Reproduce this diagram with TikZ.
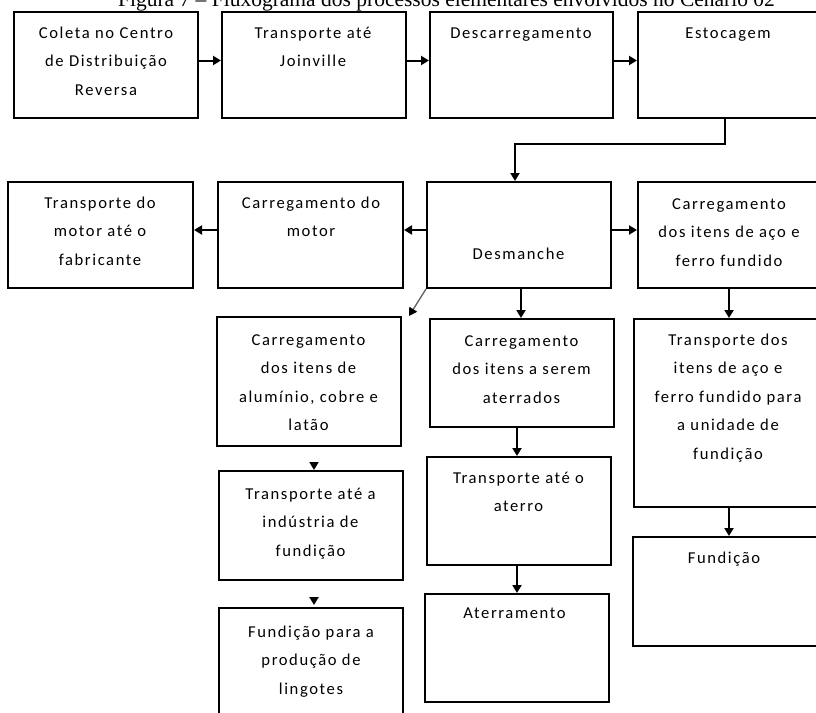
\documentclass[tikz,border=0pt]{standalone}
\usepackage{fontspec}
\setmainfont{Liberation Serif}
\newfontfamily\boxfont[LetterSpace=9.6]{Carlito}
\usetikzlibrary{arrows.meta}
\begin{document}
\begin{tikzpicture}[x=1pt,y=-1pt,
  box/.style={draw, line width=2pt, inner sep=0pt, rectangle},
  txt/.style={font=\fontsize{16.6}{28.5}\selectfont\boxfont, align=center, inner sep=0pt, anchor=base},
  arr/.style={line width=2pt, -{Triangle[length=8pt,width=9pt]}},
  diag/.style={line width=1.4pt, draw=black!60, -{Triangle[length=8pt,width=9pt,color=black]}},
]
\useasboundingbox (0,0) rectangle (816,712);
\clip (0,0) rectangle (816,712);
\node[font=\fontsize{21.5}{24}\selectfont, anchor=base, inner sep=0pt] (title) at (446.5,6) {Figura 7 – Fluxograma dos processos elementares envolvidos no Cenário 02};

% boxes
\node[box, minimum width=184pt, minimum height=106pt] (b1) at (106,65) {};
\node[box, minimum width=184pt, minimum height=106pt] (b2) at (314,65) {};
\node[box, minimum width=183pt, minimum height=106pt] (b3) at (521.5,65) {};
\node[box, minimum width=182pt, minimum height=106pt] (b4) at (729,65) {};
\node[box, minimum width=185pt, minimum height=106pt] (b5) at (100.5,235) {};
\node[box, minimum width=185pt, minimum height=106pt] (b6) at (310.5,235) {};
\node[box, minimum width=184pt, minimum height=106pt] (b7) at (519,235) {};
\node[box, minimum width=182pt, minimum height=106pt] (b8) at (729,235) {};
\node[box, minimum width=184pt, minimum height=129pt] (b9) at (309,381.5) {};
\node[box, minimum width=184pt, minimum height=108pt] (b10) at (522,373) {};
\node[box, minimum width=188pt, minimum height=188pt] (b11) at (728,413) {};
\node[box, minimum width=184pt, minimum height=109pt] (b12) at (311,525.5) {};
\node[box, minimum width=184pt, minimum height=108pt] (b13) at (519,511) {};
\node[box, minimum width=184pt, minimum height=112pt] (b14) at (311,664) {};
\node[box, minimum width=184pt, minimum height=108pt] (b15) at (517,648) {};
\node[box, minimum width=187pt, minimum height=109pt] (b16) at (726.5,591.5) {};

% texts (anchor = baseline of the last line)
\node[txt] (t1) at (106,95) {Coleta no Centro\\de Distribuição\\Reversa};
\node[txt] (t2) at (313,66.5) {Transporte até\\Joinville};
\node[txt] (t3) at (521,38) {Descarregamento};
\node[txt] (t4) at (728,38) {Estocagem};
\node[txt] (t5) at (100,265) {Transporte do\\motor até o\\fabricante};
\node[txt] (t6) at (311,236.5) {Carregamento do\\motor};
\node[txt] (t7) at (518.5,259) {Desmanche};
\node[txt] (t8) at (729,266) {Carregamento\\dos itens de aço e\\ferro fundido};
\node[txt] (t9) at (308.5,430.5) {Carregamento\\dos itens de\\alumínio, cobre e\\latão};
\node[txt] (t10) at (521.5,403) {Carregamento\\dos itens a serem\\aterrados};
\node[txt] (t11) at (728,459) {Transporte dos\\itens de aço e\\ferro fundido para\\a unidade de\\fundição};
\node[txt] (t12) at (310.5,556) {Transporte até a\\indústria de\\fundição};
\node[txt] (t13) at (518.5,511.5) {Transporte até o\\aterro};
\node[txt] (t14) at (311,694) {Fundição para a\\produção de\\lingotes};
\node[txt] (t15) at (514.5,618) {Aterramento};
\node[txt] (t16) at (724,563) {Fundição};

% connectors
\draw[arr] ([yshift=4.5pt]b1.east) -- ([yshift=4.5pt]b1.east -| b2.west);
\draw[arr] ([yshift=4.5pt]b2.east) -- ([yshift=4.5pt]b2.east -| b3.west);
\draw[arr] ([yshift=4.5pt]b3.east) -- ([yshift=4.5pt]b3.east -| b4.west);
\draw[arr] ([xshift=-4pt]b4.south) -- ++(0,25) -| ([xshift=-4pt]b7.north);
\draw[arr] ([yshift=5pt]b7.west) -- ([yshift=5pt]b7.west -| b6.east);
\draw[arr] ([yshift=5pt]b6.west) -- ([yshift=5pt]b6.west -| b5.east);
\draw[arr] ([yshift=5pt]b7.east) -- ([yshift=5pt]b7.east -| b8.west);
\coordinate (dg) at (409,316);
\draw[diag] (b7.south west) -- (dg);
\draw[arr] ([xshift=2pt]b7.south) -- ([xshift=2pt]b7.south |- b10.north);
\draw[arr] (b8.south) -- (b8.south |- b11.north);
\draw[arr, shorten <=16pt] ([xshift=5pt]b9.south) -- ([xshift=5pt]b9.south |- b12.north);
\draw[arr, shorten <=18pt, shorten >=2pt] ([xshift=3pt]b12.south) -- ([xshift=3pt]b12.south |- b14.north);
\draw[arr] ([xshift=-2pt]b13.north |- b10.south) -- ([xshift=-2pt]b13.north);
\draw[arr] (b15.north |- b13.south) -- (b15.north);
\draw[arr] ([xshift=1pt]b11.south) -- ([xshift=1pt]b11.south |- b16.north);
\end{tikzpicture}
\end{document}
